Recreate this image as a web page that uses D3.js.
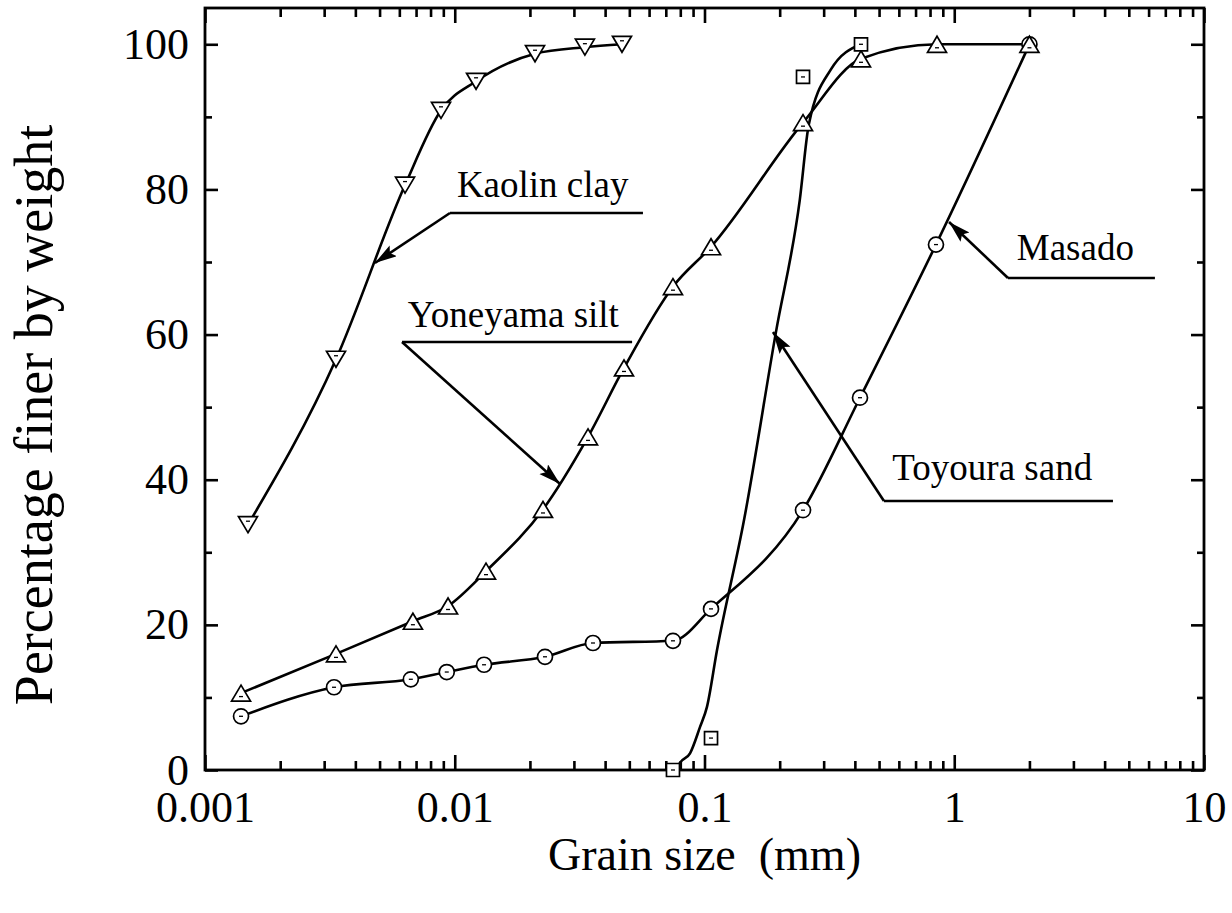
<!DOCTYPE html>
<html>
<head>
<meta charset="utf-8">
<script src="https://cdn.jsdelivr.net/npm/d3@7"></script>
<style>
  body { margin: 0; background: #fff; }
  text { font-family: "Liberation Serif", "Times New Roman", serif; fill: #000; }
</style>
</head>
<body>
<div id="chart"></div>
<script>
// data (grain size in mm, percent finer)
const kaolinX = [0.001486, 0.003346, 0.006323, 0.00881, 0.01217, 0.02096, 0.0332, 0.04673];
const kaolinY = [33.8, 56.6, 80.6, 90.9, 94.9, 98.7, 99.6, 100];

const yoneX = [0.001394, 0.003346, 0.0068, 0.0094, 0.01334, 0.02256, 0.03417, 0.04761, 0.07478, 0.1062, 0.248, 0.4233, 0.853, 2];
const yoneY = [10.6, 16.0, 20.5, 22.6, 27.4, 35.9, 45.9, 55.4, 66.6, 72.1, 89.2, 98.0, 100, 100];

const masadoX = [0.001394, 0.003286, 0.00667, 0.00929, 0.0131, 0.02298, 0.03577, 0.07478, 0.1062, 0.248, 0.4194, 0.845, 2];
const masadoY = [7.4, 11.4, 12.5, 13.5, 14.5, 15.6, 17.5, 17.8, 22.2, 35.8, 51.3, 72.4, 100];

// Toyoura sand: measured points and the drawn curve
const toyX = [0.07478, 0.1062, 0.248, 0.4233];
const toyY = [0, 4.4, 95.5, 100];
const toyLineX = [0.0769, 0.0798, 0.0875, 0.0959, 0.1023, 0.1122, 0.1439, 0.1929, 0.2406, 0.2615, 0.3203, 0.4233];
const toyLineY = [0, 1, 2.3, 5.9, 8.7, 16.5, 34.4, 60.2, 78.5, 88.9, 96.5, 100];

const xMajor = [0.001, 0.01, 0.1, 1, 10];
const xTickLabels = ["0.001", "0.01", "0.1", "1", "10"];
const yMajor = [0, 20, 40, 60, 80, 100];
const yMinor = [10, 30, 50, 70, 90];

// labels: text anchor, underline (x0,x1,y) and arrow tip, in data units
const labels = [
  {text: "Kaolin clay",   tx: 0.0102, ty: 78.96, x0: 0.00957, x1: 0.0567, uy: 76.75, px: 0.00479, py: 69.86},
  {text: "Yoneyama silt", tx: 0.00649, ty: 61.06, x0: 0.00615, x1: 0.0513, uy: 58.98, px: 0.0264, py: 39.41},
  {text: "Toyoura sand",  tx: 0.565, ty: 39.96, x0: 0.523, x1: 4.32, uy: 37.07, px: 0.188, py: 60.35},
  {text: "Masado",        tx: 1.78, ty: 70.28, x0: 1.641, x1: 6.36, uy: 67.8, px: 0.953, py: 75.51}
];

const width = 1232, height = 913;
const plot = {left: 205, right: 1204, top: 8, bottom: 770};

const svg = d3.select("#chart")
  .append("svg")
    .attr("width", width)
    .attr("height", height);

svg.append("rect").attr("width", width).attr("height", height).attr("fill", "#fff");

const x = d3.scaleLog()
  .domain([0.001, 10])
  .range([plot.left, plot.right]);
const y = d3.scaleLinear()
  .domain([0, 105])
  .range([plot.bottom, plot.top]);

const xMinor = x.ticks().filter(d => !xMajor.some(m => Math.abs(m - d) / m < 1e-6));

function styleAxis(g) {
  g.select(".domain").remove();
  g.selectAll(".tick line").attr("stroke", "#000").attr("stroke-width", 2.6);
  g.selectAll(".tick text").attr("font-size", "44px").attr("font-family", "Liberation Serif");
}

// bottom
svg.append("g")
  .attr("transform", `translate(0,${plot.bottom})`)
  .call(d3.axisBottom(x).tickValues(xMajor).tickSize(-15).tickPadding(21)
    .tickFormat((d, i) => xTickLabels[i]))
  .call(styleAxis);
svg.append("g")
  .attr("transform", `translate(0,${plot.bottom})`)
  .call(d3.axisBottom(x).tickValues(xMinor).tickSize(-9).tickFormat(""))
  .call(styleAxis);
// top
svg.append("g")
  .attr("transform", `translate(0,${plot.top})`)
  .call(d3.axisTop(x).tickValues(xMajor).tickSize(-15).tickFormat(""))
  .call(styleAxis);
svg.append("g")
  .attr("transform", `translate(0,${plot.top})`)
  .call(d3.axisTop(x).tickValues(xMinor).tickSize(-9).tickFormat(""))
  .call(styleAxis);
// left
svg.append("g")
  .attr("transform", `translate(${plot.left},0)`)
  .call(d3.axisLeft(y).tickValues(yMajor).tickSize(-13).tickPadding(16))
  .call(styleAxis);
svg.append("g")
  .attr("transform", `translate(${plot.left},0)`)
  .call(d3.axisLeft(y).tickValues(yMinor).tickSize(-7).tickFormat(""))
  .call(styleAxis);
// right
svg.append("g")
  .attr("transform", `translate(${plot.right},0)`)
  .call(d3.axisRight(y).tickValues(yMajor).tickSize(-13).tickFormat(""))
  .call(styleAxis);
svg.append("g")
  .attr("transform", `translate(${plot.right},0)`)
  .call(d3.axisRight(y).tickValues(yMinor).tickSize(-7).tickFormat(""))
  .call(styleAxis);

// frame
svg.append("rect")
  .attr("x", plot.left).attr("y", plot.top)
  .attr("width", plot.right - plot.left).attr("height", plot.bottom - plot.top)
  .attr("fill", "none").attr("stroke", "#000").attr("stroke-width", 2.8);

// axis titles
svg.append("text")
  .attr("x", (plot.left + plot.right) / 2)
  .attr("y", 870)
  .attr("text-anchor", "middle")
  .attr("font-size", "46px")
  .style("white-space", "pre")
  .text("Grain size  (mm)");

svg.append("text")
  .attr("transform", "translate(52,415) rotate(-90)")
  .attr("text-anchor", "middle")
  .attr("font-size", "54px")
  .text("Percentage finer by weight");

// curves
const line = d3.line()
  .x(d => x(d[0]))
  .y(d => y(d[1]))
  .curve(d3.curveMonotoneX);

[[kaolinX, kaolinY], [yoneX, yoneY], [masadoX, masadoY], [toyLineX, toyLineY]].forEach(([xs, ys]) => {
  svg.append("path")
    .datum(d3.zip(xs, ys))
    .attr("d", line)
    .attr("fill", "none")
    .attr("stroke", "#000")
    .attr("stroke-width", 2.6)
    .attr("stroke-linejoin", "round");
});

// symbols
const shapes = {
  down:   {d: "M0,8L9.5,-8L-9.5,-8Z", dash: -3.5},
  up:     {d: "M0,-8L9.5,8L-9.5,8Z", dash: 3.5},
  circle: {d: "M7.5,0A7.5,7.5 0 1,1 -7.5,0A7.5,7.5 0 1,1 7.5,0Z", dash: 0},
  square: {d: "M-6.5,-6.5H6.5V6.5H-6.5Z", dash: 0}
};

function drawPoints(xs, ys, kind) {
  const s = shapes[kind];
  const g = svg.append("g")
    .selectAll("g")
    .data(d3.zip(xs, ys))
    .join("g")
      .attr("transform", d => `translate(${x(d[0])},${y(d[1])})`);
  g.append("path")
    .attr("d", s.d)
    .attr("fill", "#fff")
    .attr("stroke", "#000")
    .attr("stroke-width", 1.7);
  g.append("line")
    .attr("x1", -2).attr("x2", 2)
    .attr("y1", s.dash).attr("y2", s.dash)
    .attr("stroke", "#000").attr("stroke-width", 1.3);
}

drawPoints(kaolinX, kaolinY, "down");
drawPoints(masadoX, masadoY, "circle");
drawPoints(yoneX, yoneY, "up");
drawPoints(toyX, toyY, "square");

// annotations
svg.append("defs").append("marker")
  .attr("id", "arrow")
  .attr("markerUnits", "userSpaceOnUse")
  .attr("markerWidth", 24).attr("markerHeight", 14)
  .attr("refX", 22).attr("refY", 6.5)
  .attr("orient", "auto")
  .append("path")
    .attr("d", "M0,0L22,6.5L0,13L4,6.5Z")
    .attr("fill", "#000");

const ann = svg.append("g")
  .selectAll("g")
  .data(labels)
  .join("g");

ann.append("text")
  .attr("x", d => x(d.tx))
  .attr("y", d => y(d.ty))
  .attr("font-size", "37px")
  .text(d => d.text);

ann.append("line")
  .attr("x1", d => x(d.x0)).attr("x2", d => x(d.x1))
  .attr("y1", d => y(d.uy)).attr("y2", d => y(d.uy))
  .attr("stroke", "#000").attr("stroke-width", 2.6);

ann.append("line")
  .attr("x1", d => x(d.x0)).attr("y1", d => y(d.uy))
  .attr("x2", d => x(d.px)).attr("y2", d => y(d.py))
  .attr("stroke", "#000").attr("stroke-width", 2.6)
  .attr("marker-end", "url(#arrow)");
</script>
</body>
</html>
